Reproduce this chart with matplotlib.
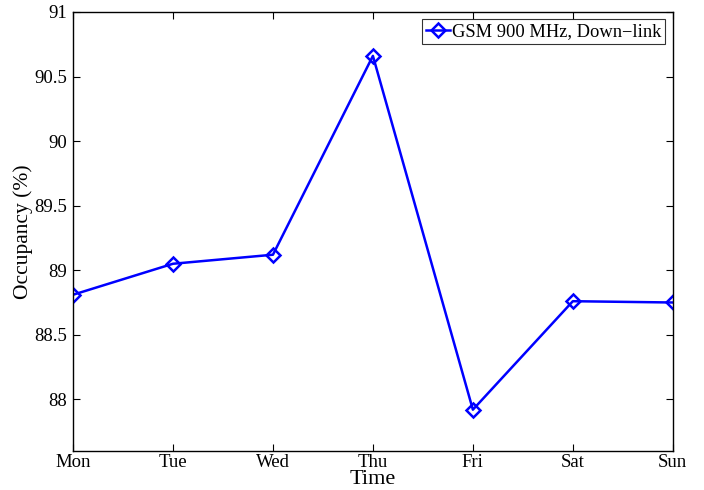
import matplotlib.pyplot as plt
import numpy as np

plt.rcParams['font.family'] = ['Liberation Serif', 'DejaVu Serif']
plt.rcParams['mathtext.fontset'] = 'stix'

# Datos
dias = ['Mon', 'Tue', 'Wed', 'Thu', 'Fri', 'Sat', 'Sun']
ocupacion = [88.81, 89.05, 89.12, 90.66, 87.92, 88.76, 88.75]

fig = plt.figure(figsize=(7.04, 4.9), dpi=100)
ax = fig.add_axes([0.1037, 0.0796, 0.852, 0.896])

x = np.arange(len(dias))
ax.plot(x, ocupacion, color='#0000ff', lw=1.8, marker='D', ms=7.5,
        mfc='none', mec='#0000ff', mew=1.8, label='GSM 900 MHz, Down\u2212link')

ax.set_xlim(0, len(dias) - 1)
ax.set_ylim(87.6, 91)
ax.set_xticks(x)
ax.set_xticklabels(dias)
ax.set_yticks([88, 88.5, 89, 89.5, 90, 90.5, 91])
ax.set_yticklabels(['88', '88.5', '89', '89.5', '90', '90.5', '91'])
ax.tick_params(direction='in', top=True, right=True, labelsize=13.5, length=5, width=0.8, pad=4)
ax.tick_params(axis='x', pad=2.5)
for s in ax.spines.values():
    s.set_linewidth(1.0)

ax.set_xlabel('Time', fontsize=16, labelpad=-1)
ax.set_ylabel('Occupancy (%)', fontsize=15.5, labelpad=1)

leg = ax.legend(loc='upper right', fontsize=13.3, frameon=True, fancybox=False,
                edgecolor='black', handlelength=1.3, handletextpad=0.15,
                borderpad=0.2, borderaxespad=0.4)
leg.get_frame().set_linewidth(0.8)

plt.savefig('out.png', dpi=100)
